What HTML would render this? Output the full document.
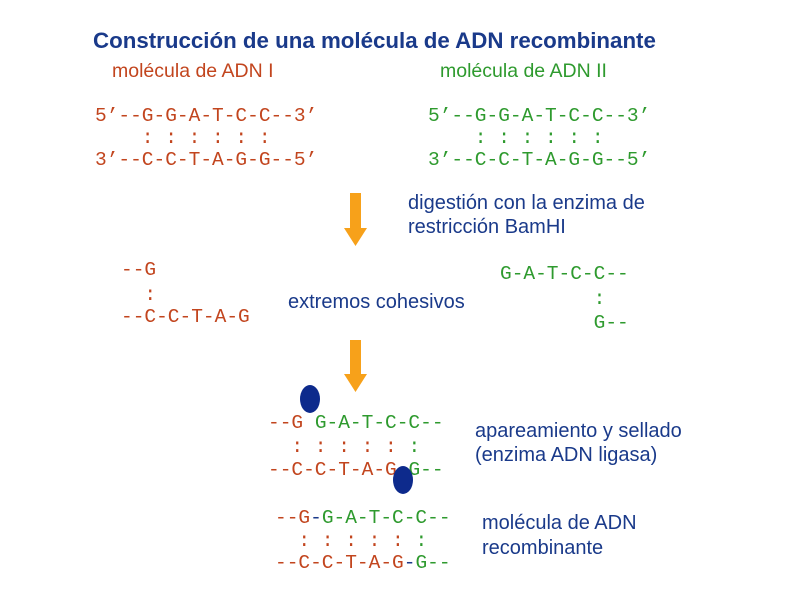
<!DOCTYPE html>
<html><head><meta charset="utf-8"><style>
body{margin:0;width:800px;height:600px;background:#fff;position:relative;overflow:hidden}
.t{position:absolute;white-space:pre;line-height:1}
.m{font-family:"Liberation Mono",monospace;font-size:19.5px}
.s{font-family:"Liberation Sans",sans-serif;font-size:20px;color:#1a3a8a}
.r{color:#c2451e}.g{color:#2e9a2e}.b{color:#1a3a8a}
.ov{position:absolute;width:20px;height:28px;border-radius:50%;background:#0d2a8c}
</style></head><body>
<div class="t" style="left:93px;top:30px;font-family:'Liberation Sans',sans-serif;font-weight:bold;font-size:22.3px;color:#1a3a8a">Construcción de una molécula de ADN recombinante</div>
<div class="t" style="left:112px;top:62px;font-family:'Liberation Sans',sans-serif;font-size:19.5px;color:#c2451e">molécula de ADN I</div>
<div class="t" style="left:440px;top:62px;font-family:'Liberation Sans',sans-serif;font-size:19.5px;color:#2e9a2e">molécula de ADN II</div>

<div class="t m r" style="left:95px;top:107px">5’--G-G-A-T-C-C--3’</div>
<div class="t m r" style="left:95px;top:129px">    : : : : : :</div>
<div class="t m r" style="left:95px;top:151px">3’--C-C-T-A-G-G--5’</div>
<div class="t m g" style="left:428px;top:107px">5’--G-G-A-T-C-C--3’</div>
<div class="t m g" style="left:428px;top:129px">    : : : : : :</div>
<div class="t m g" style="left:428px;top:151px">3’--C-C-T-A-G-G--5’</div>

<svg style="position:absolute;left:0;top:0" width="800" height="600">
<polygon points="350,193 361,193 361,228 367,228 355.5,246 344,228 350,228" fill="#f7a11a"/>
<polygon points="350,340 361,340 361,374 367,374 355.5,392 344,374 350,374" fill="#f7a11a"/>
</svg>
<div class="t s" style="left:408px;top:193px">digestión con la enzima de</div>
<div class="t s" style="left:408px;top:217px">restricción BamHI</div>

<div class="t m r" style="left:121px;top:261px">--G</div>
<div class="t m r" style="left:121px;top:286px">  :</div>
<div class="t m r" style="left:121px;top:308px">--C-C-T-A-G</div>
<div class="t s" style="left:288px;top:292px">extremos cohesivos</div>
<div class="t m g" style="left:500px;top:265px">G-A-T-C-C--</div>
<div class="t m g" style="left:500px;top:290px">        :</div>
<div class="t m g" style="left:500px;top:314px">        G--</div>

<div class="ov" style="left:300px;top:385px"></div>
<div class="t m" style="left:268px;top:414px"><span class="r">--G </span><span class="g">G-A-T-C-C--</span></div>
<div class="t m r" style="left:268px;top:438px">  : : : : : <span class="g">:</span></div>
<div class="t m" style="left:268px;top:461px"><span class="r">--C-C-T-A-G </span><span class="g">G--</span></div>
<div class="ov" style="left:393px;top:466px"></div>
<div class="t s" style="left:475px;top:421px">apareamiento y sellado</div>
<div class="t s" style="left:475px;top:445px">(enzima ADN ligasa)</div>

<div class="t m" style="left:275px;top:509px"><span class="r">--G</span><span class="b">-</span><span class="g">G-A-T-C-C--</span></div>
<div class="t m r" style="left:275px;top:532px">  : : : : : <span class="g">:</span></div>
<div class="t m" style="left:275px;top:554px"><span class="r">--C-C-T-A-G</span><span class="b">-</span><span class="g">G--</span></div>
<div class="t s" style="left:482px;top:513px">molécula de ADN</div>
<div class="t s" style="left:482px;top:538px">recombinante</div>
</body></html>
